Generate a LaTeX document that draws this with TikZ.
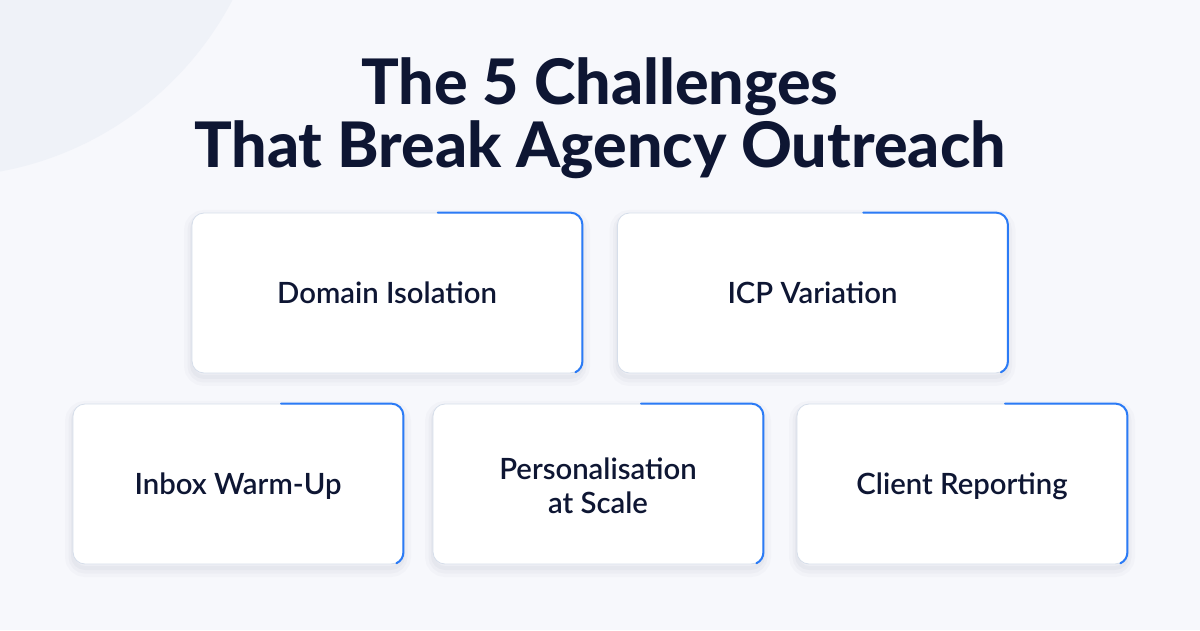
\documentclass[tikz,border=0pt]{standalone}
\usepackage{fontspec}
\setmainfont{Lato}
\newfontfamily\titlefont{Lato Heavy}
\newfontfamily\boxfont{Lato Semibold}
\usetikzlibrary{calc}
\definecolor{bgcol}{HTML}{F7F8FC}
\definecolor{circcol}{HTML}{EFF2F8}
\definecolor{navy}{HTML}{0E1633}
\definecolor{bordercol}{HTML}{D6DEEA}
\definecolor{accentblue}{HTML}{2B7BF6}
\definecolor{shadowcol}{HTML}{3A4A70}
\tikzset{
  card/.style={draw=bordercol, line width=0.8pt, fill=white, rounded corners=12pt,
    minimum width=#1, minimum height=160pt, inner sep=0pt,
    preaction={draw=shadowcol, draw opacity=0.025, line width=16pt, transform canvas={yshift=-5pt}},
    preaction={draw=shadowcol, draw opacity=0.03, line width=9pt, transform canvas={yshift=-5pt}},
    preaction={draw=shadowcol, draw opacity=0.035, line width=4pt, transform canvas={yshift=-4pt}}},
  cardtext/.style={font=\boxfont\fontsize{29.3}{33}\selectfont, text=navy, anchor=base, inner sep=0pt},
  titletext/.style={font=\titlefont\fontsize{62.8}{63}\selectfont, text=navy, anchor=base, inner sep=0pt},
  accent/.style={draw=accentblue, line width=2pt, line cap=round}
}
\newcommand{\cardaccent}[1]{%
  \draw[accent] ($(#1.north west)!0.63!(#1.north east)$) -- ([xshift=-12pt]#1.north east)
    arc[start angle=90, end angle=0, radius=12pt] -- ([yshift=12pt]#1.south east)
    arc[start angle=0, end angle=-65, radius=12pt];}
\begin{document}
\begin{tikzpicture}[x=1pt,y=1pt]
\useasboundingbox (0,0) rectangle (1200,630);
\fill[bgcol] (0,0) rectangle (1200,630);
\begin{scope}
\clip (0,0) rectangle (1200,630);
\fill[circcol] (-60,783) circle[radius=330];
\end{scope}
% title
\node[titletext] (title1) at (600,525) {The 5 Challenges};
\node[titletext] (title2) at (600,462) {That Break Agency Outreach};
% cards
\node[card=390pt] (c1) at (387,337) {};
\node[card=390pt] (c2) at (812.5,337) {};
\node[card=330pt] (c3) at (238,146) {};
\node[card=330pt] (c4) at (598,146) {};
\node[card=330pt] (c5) at (962,146) {};
\foreach \n in {c1,c2,c3,c4,c5} {\cardaccent{\n}}
% texts
\node[cardtext] (t1) at ($(c1.center)+(0,-10.5)$) {Domain Isolation};
\node[cardtext] (t2) at ($(c2.center)+(0,-10.5)$) {ICP Variation};
\node[cardtext] (t3) at ($(c3.center)+(0,-10.5)$) {Inbox Warm-Up};
\node[cardtext] (t4a) at ($(c4.center)+(0,4)$) {Personalisation};
\node[cardtext] (t4b) at ($(c4.center)+(0,-29)$) {at Scale};
\node[cardtext] (t5) at ($(c5.center)+(0,-10.5)$) {Client Reporting};
\end{tikzpicture}
\end{document}
